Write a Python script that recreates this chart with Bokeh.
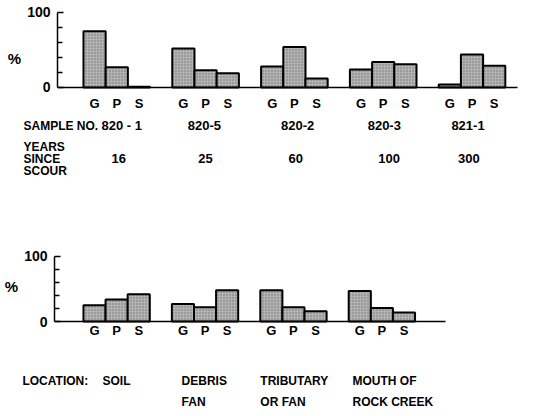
from bokeh.plotting import figure
from bokeh.models import ColumnDataSource, Label, FixedTicker, Range1d
from bokeh.layouts import column
from bokeh.embed import file_html
from bokeh.resources import INLINE
from bokeh.core.properties import value

# ---------------- data ----------------
fractions = ["G", "P", "S"]
samples = ["820 - 1", "820-5", "820-2", "820-3", "821-1"]
years = ["16", "25", "60", "100", "300"]
top_G = [75, 52, 28, 24, 4]
top_P = [27, 23, 54, 34, 44]
top_S = [1, 19, 12, 31, 29]

locations = [["SOIL"], ["DEBRIS", "FAN"], ["TRIBUTARY", "OR FAN"], ["MOUTH OF", "ROCK CREEK"]]
bot_G = [25, 27, 48, 47]
bot_P = [34, 22, 22, 21]
bot_S = [42, 48, 16, 14]

FONT = "Liberation Sans"
FILL = "#b4b4b4"
W = 537


def chart(height, x0, x1, y0, y1, left, top_border, G, P, S, base_end, gps_y):
    p = figure(width=W, height=height, output_backend="svg", toolbar_location=None,
               x_range=Range1d(x0, x1), y_range=Range1d(y0, y1),
               x_axis_location=None, min_border_left=left, min_border_right=0,
               min_border_top=top_border, min_border_bottom=0, frame_align=False)
    p.outline_line_color = None
    p.grid.visible = False
    xs, tops, labs = [], [], []
    for i in range(len(G)):
        for j, vals in enumerate((G, P, S)):
            xs.append(4 * i + j)
            tops.append(vals[i])
            labs.append(fractions[j])
    src = ColumnDataSource(dict(x=xs, top=tops, lab=labs))
    p.vbar(x="x", top="top", bottom=0, width=1, source=src, fill_color=FILL,
           line_color="black", line_width=2,
           hatch_pattern="dot", hatch_color="#707070", hatch_scale=3, hatch_weight=1)
    p.segment(x0=[x0], y0=[0], x1=[base_end], y1=[0], line_color="black", line_width=1.5)
    p.text(x="x", y=gps_y, text="lab", source=src, text_font=value(FONT),
           text_font_size="13px", text_font_style="bold", text_align="center",
           text_baseline="middle")
    ax = p.yaxis[0]
    ax.ticker = FixedTicker(ticks=[0, 100], minor_ticks=[20, 40, 60, 80])
    ax.bounds = (0, 100)
    ax.major_tick_in = 6
    ax.major_tick_out = 0
    ax.minor_tick_in = 5
    ax.minor_tick_out = 0
    ax.axis_line_width = 1.5
    ax.major_tick_line_width = 1.5
    ax.minor_tick_line_width = 1.5
    ax.major_label_text_font = FONT
    ax.major_label_text_font_size = "14px"
    ax.major_label_text_font_style = "bold"
    ax.major_label_text_color = "black"
    ax.major_label_standoff = 7
    ax.axis_label = "%"
    ax.axis_label_orientation = "horizontal"
    ax.axis_label_text_font = FONT
    ax.axis_label_text_font_size = "15px"
    ax.axis_label_text_font_style = "bold"
    ax.axis_label_text_color = "black"
    ax.axis_label_standoff = 3
    return p


def text_fig(height, x0, x1, ytop, ybot):
    p = figure(width=W, height=height, output_backend="svg", toolbar_location=None,
               x_range=Range1d(x0, x1), y_range=Range1d(ybot, ytop),
               x_axis_location=None, y_axis_location=None,
               min_border=0, frame_align=False)
    p.outline_line_color = None
    p.grid.visible = False
    return p


def lab(p, x, y, t, align="left", size="12px"):
    p.add_layout(Label(x=x, y=y, text=t, text_font=FONT, text_font_size=size,
                       text_font_style="bold", text_align=align,
                       text_baseline="middle", text_color="black"))


# ---------------- top chart (page y 0..113) ----------------
pA = chart(113, -1.67, 19.95, -34.67, 113.33, 57, 2, top_G, top_P, top_S, 19.05, -21.3)

# ---------------- sample / years rows (page y 113..185) ----------------
pB = text_fig(72, -4.237, 19.95, 113, 185)
lab(pB, -3.2, 125, "SAMPLE NO.")
lab(pB, -3.2, 146, "YEARS")
lab(pB, -3.2, 158, "SINCE")
lab(pB, -3.2, 170, "SCOUR")
sample_off = [0.22, -0.05, 0.15, 0.05, -0.18]
year_off = [0.09, 0.0, 0.06, 0.27, -0.14]
for i in range(len(samples)):
    lab(pB, 4 * i + 1 + sample_off[i], 125, samples[i], "center", "13px")
    lab(pB, 4 * i + 1 + year_off[i], 158, years[i], "center", "13px")

# ---------------- bottom chart (page y 185..338) ----------------
pC = chart(153, -1.81, 20.04, -26.0, 133.8, 54, 49, bot_G, bot_P, bot_S, 15.88, -13)

# ---------------- location rows (page y 338..410) ----------------
pD = text_fig(72, -4.253, 20.04, 338, 410)
lab(pD, -3.26, 380, "LOCATION:")
loc_off = [0.86, 0.44, 0.0, 0.17]
for i, lines in enumerate(locations):
    for k, t in enumerate(lines):
        lab(pD, 4 * i - 0.5 + loc_off[i], 380 + 21 * k, t)

layout = column(pA, pB, pC, pD, spacing=0)
open("out.html", "w").write(file_html(layout, INLINE))
